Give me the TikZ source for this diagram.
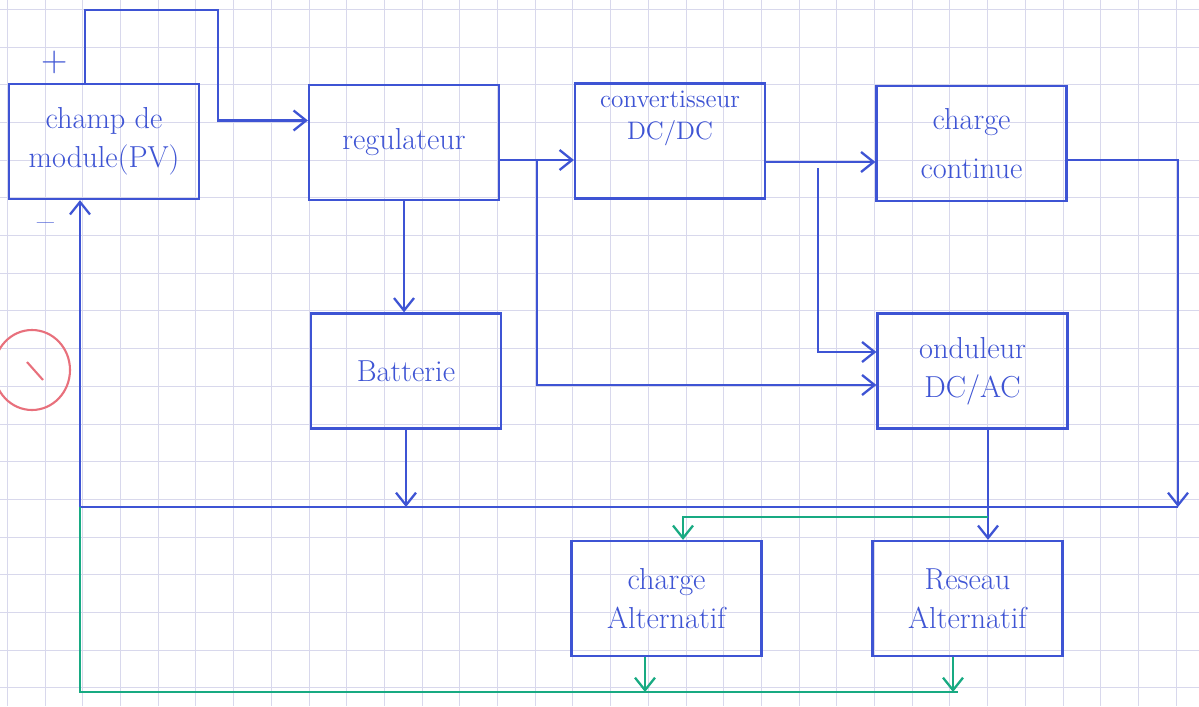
\documentclass[tikz,border=0pt]{standalone}
\usepackage{tikz}
\usetikzlibrary{arrows.meta}
\usetikzlibrary{positioning}
\definecolor{penblue}{RGB}{62,84,212}
\definecolor{pengreen}{RGB}{24,170,130}
\definecolor{penred}{RGB}{232,112,124}
\definecolor{paper}{RGB}{216,216,236}
\tikzset{
	%Diagrammes style
	block/.style={
		draw=penblue,
		line width=1.3pt,
		rectangle,
		minimum width=3.8cm,
		minimum height=2.3cm,
		align=center,
		text=penblue,
		font=\LARGE,
	},
	wire/.style={
		penblue,
		line width=1.3pt,
		->,
	},
	greenwire/.style={
		pengreen,
		line width=1.3pt,
		->,
	},
	paperGrid/.style={
		paper,
		line width=0.4pt,
	},
	sign/.style={
		text=penblue,
		font=\huge,
	}
}

\begin{document}
\begin{tikzpicture}[x=0.02cm, y=-0.02cm, >={Straight Barb[length=2.5mm,width=4mm]}]
	\useasboundingbox (0,0) rectangle (1199,706);
	\fill[white] (0,0) rectangle (1199,706);
	% grid paper
	\foreach \k in {0,...,31} {
		\draw[paperGrid] (7.3+37.7*\k,0) -- (7.3+37.7*\k,706);
	}
	\foreach \k in {0,...,18} {
		\draw[paperGrid] (0,9.2+37.7*\k) -- (1199,9.2+37.7*\k);
	}

	\node[block] (pv) at (104,141.5) {champ de\\module(PV)};
	\node[block] (reg) at (404,142.5) {regulateur};
	\node[block, font=\Large] (conv) at (670,141) {convertisseur\\DC/DC\\[4mm]};
	\node[block] (cont) at (971.5,143.5) {charge\\[2mm]continue};
	\node[block] (bat) at (406,371) {Batterie};
	\node[block] (ond) at (972.5,371) {onduleur\\DC/AC};
	\node[block] (calt) at (666.5,598.5) {charge\\Alternatif};
	\node[block] (res) at (967.5,598.5) {Reseau\\Alternatif};

	\node[sign] (plus) at (55,62) {+};
	\node[sign] (minus) at (46,228) {--};

	\coordinate (top) at (218,10);
	\coordinate (j1) at (537,160);
	\coordinate (j2) at (818,168);
	\coordinate (bR) at (1178,507);
	\coordinate (bL) at (80,507);
	\coordinate (g1) at (988,517);
	\coordinate (gL) at (80,692);

	\draw[wire] ([xshift=-0.38cm]pv.north) |- (top) |- ([yshift=0.44cm]reg.west);
	\draw[wire] (reg.east |- j1) -- (conv.west |- j1);
	\draw[wire] (j1) |- (ond.west |- 0,385);
	\draw[wire] (reg.south) -- (reg.south |- bat.north);
	\draw[wire] (conv.east |- 0,162) -- (cont.west |- 0,162);
	\draw[wire] (j2) |- (ond.west |- 0,352);
	\draw[wire] (cont.east |- 0,160) -| (bR);
	\draw[wire] (bat.south) -- (bat.south |- bL);
	\draw[wire] (bR) -- (bL) -- (bL |- pv.south);
	\draw[wire] (ond.south -| g1) -- (res.north -| g1);

	\draw[greenwire] (g1) -| (calt.north -| 683,0);
	\draw[pengreen, line width=1.3pt] (bL) -- (gL) -- (958,692);
	\draw[greenwire] (calt.south -| 645,0) -- (645,692);
	\draw[greenwire] (res.south -| 953,0) -- (953,692);

	% stray mark
	\draw[penred, line width=1.2pt] (32,370) ellipse [x radius=38, y radius=40];
	\draw[penred, line width=1.2pt] (27,362) -- (43,380);
\end{tikzpicture}
\end{document}
